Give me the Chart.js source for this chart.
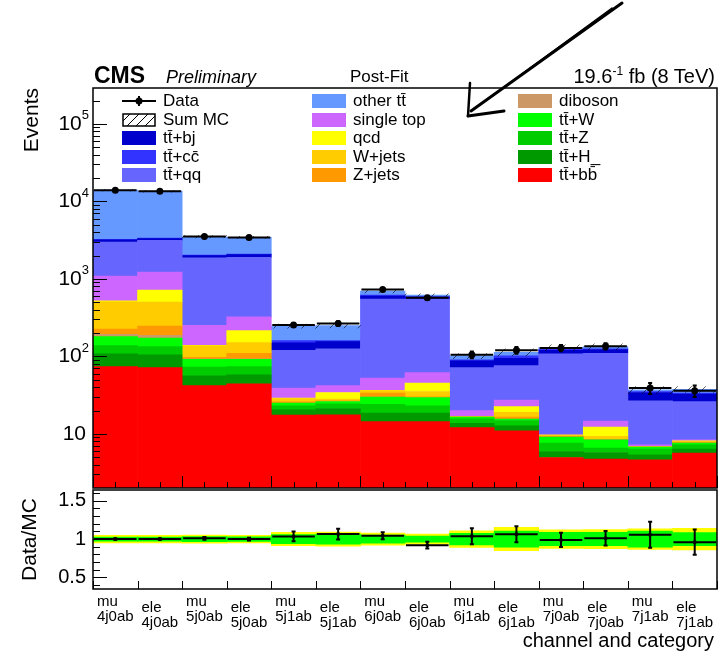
<!DOCTYPE html>
<html>
<head>
<meta charset="utf-8">
<script src="https://cdn.jsdelivr.net/npm/chart.js@4.4.1/dist/chart.umd.min.js"></script>
<style>
  body { margin: 0; background: #fff; font-family: "Liberation Sans", Arial, sans-serif; }
  #wrap { position: relative; width: 722px; height: 653px; overflow: hidden; }
  #mainChart { position: absolute; left: 0; top: 0; }
  #ratioChart { position: absolute; left: 0; top: 470px; }
  .txt { position: absolute; white-space: nowrap; line-height: 1; color: #000; }
  .sw { position: absolute; width: 34px; height: 14px; }
  #arrow { position: absolute; left: 0; top: 0; }
</style>
</head>
<body>
<div id="wrap">
  <canvas id="mainChart" width="722" height="490"></canvas>
  <canvas id="ratioChart" width="722" height="183"></canvas>
  <div class="txt" style="left:94px;top:64px;font-size:23px;font-weight:bold;">CMS</div>
  <div class="txt" style="left:166px;top:68px;font-size:18px;font-style:italic;">Preliminary</div>
  <div class="txt" style="left:350px;top:68px;font-size:17px;">Post-Fit</div>
  <div class="txt" style="right:7px;top:65px;font-size:20px;">19.6<sup style="font-size:12px;">-1</sup> fb (8 TeV)</div>
  <div class="txt" style="right:8px;top:630px;font-size:20px;">channel and category</div>
  <div id="legend"></div>
  <svg id="arrow" width="722" height="140">
    <g stroke="#000" fill="none" stroke-linecap="round">
      <path d="M622 3 L471 111" stroke-width="3"/>
      <path d="M612 8 L474 109" stroke-width="1.5"/>
      <path d="M470 83 L468 116" stroke-width="2.5"/>
      <path d="M468 116 L504 111" stroke-width="3"/>
    </g>
  </svg>
</div>
<script>
// bins
const channels = ['mu', 'ele', 'mu', 'ele', 'mu', 'ele', 'mu', 'ele', 'mu', 'ele', 'mu', 'ele', 'mu', 'ele'];
const categories = ['4j0ab', '4j0ab', '5j0ab', '5j0ab', '5j1ab', '5j1ab', '6j0ab', '6j0ab',
                    '6j1ab', '6j1ab', '7j0ab', '7j0ab', '7j1ab', '7j1ab'];

// post-fit yields per process (events)
const ttbb      = [73.6, 71.5, 41.9, 44.1, 17.4, 17.6, 14.4, 14.4, 12.0, 10.9, 4.95, 4.72, 4.62, 5.64];
const ttH       = [33.8, 32.7, 14.0, 13.5, 3.0, 3.6, 4.1, 4.1, 1.7, 1.75, 0.97, 1.02, 0.74, 0.71];
const ttZ       = [30.0, 29.2, 16.5, 16.1, 2.6, 3.2, 5.6, 4.5, 1.9, 2.2, 1.67, 0.8, 0.99, 0.87];
const ttW       = [42.1, 39.2, 19.3, 17.5, 1.9, 1.7, 5.6, 6.4, 0.8, 0.6, 1.48, 1.83, 0.39, 0.37];
const diboson   = [13.3, 14.4, 0.9, 1.4, 0.06, 0.05, 0.05, 0.05, 0.02, 0.02, 0.02, 0.02, 0.01, 0.01];
const zjets     = [32.7, 59.4, 4.2, 17.0, 0.9, 0.5, 3.7, 0.6, 0.1, 0.94, 0.22, 0.12, 0.05, 0.18];
const wjets     = [281, 256, 39.4, 40.6, 2.6, 1.4, 2.7, 5.1, 0.2, 2.6, 0.33, 0.74, 0.05, 0.23];
const qcd       = [15, 215, 2.8, 64, 0.4, 6.1, 0.2, 9.9, 0.1, 3.4, 0.03, 2.97, 0.05, 0.12];
const singleTop = [565, 507, 113, 108, 10, 7.8, 15.9, 16.6, 3.1, 4.9, 0.06, 2.38, 0.32, 0.25];
const ttqq      = [1892, 1910, 1618, 1570, 81, 82.6, 497, 487, 51.6, 48.6, 97.7, 95, 19.4, 17.7];
const ttbj      = [203, 162, 126, 164, 29, 30, 51, 34, 15.8, 18.6, 12.4, 12.8, 7.5, 6.6];
const ttcc      = [47, 59, 31, 33, 10.5, 5, 18, 9, 2.6, 6.7, 3.0, 2.2, 1.0, 0.8];
const otherTT   = [10700, 10175, 1463, 1338, 86, 90, 78, 26, 11.3, 11.7, 6.6, 8.8, 1.8, 4.0];

// data and uncertainties
const dataEvents = [13930, 13530, 3525, 3427, 254, 266, 727, 569, 105, 120, 128, 135, 39, 36];
const ratioErr   = [0.009, 0.009, 0.017, 0.017, 0.063, 0.07, 0.045, 0.045, 0.105, 0.105, 0.093, 0.095, 0.17, 0.165];
const uncInner   = [0.028, 0.028, 0.033, 0.030, 0.059, 0.065, 0.054, 0.039, 0.076, 0.104, 0.087, 0.087, 0.104, 0.085];
const uncOuter   = [0.048, 0.048, 0.054, 0.050, 0.087, 0.093, 0.080, 0.065, 0.109, 0.152, 0.120, 0.124, 0.135, 0.141];

const Y_MIN = 2, Y_MAX = 2.9e5, Y_FLOOR = 1;
const FONT = '"Liberation Sans", Arial, sans-serif';

// stacking order, bottom first
const processes = [
    ['tt\u0304+bb\u0304', ttbb, '#ff0000'],
    ['tt\u0304+H_', ttH, '#009900'],
    ['tt\u0304+Z', ttZ, '#00cc00'],
    ['tt\u0304+W', ttW, '#00ff00'],
    ['diboson', diboson, '#cc9966'],
    ['Z+jets', zjets, '#ff9900'],
    ['W+jets', wjets, '#ffcc00'],
    ['qcd', qcd, '#ffff00'],
    ['single top', singleTop, '#cc66ff'],
    ['tt\u0304+qq', ttqq, '#6666ff'],
    ['tt\u0304+bj', ttbj, '#0000cc'],
    ['tt\u0304+cc\u0304', ttcc, '#3333ff'],
    ['other tt\u0304', otherTT, '#6699ff']
];

const running = categories.map(() => 0);
const mcDatasets = processes.map(([label, vals, color]) => {
    const data = vals.map((v, i) => {
        const lo = running[i];
        running[i] += v;
        return [Math.max(lo, Y_FLOOR), running[i]];
    });
    return {
        label, data, backgroundColor: color, borderWidth: 0,
        grouped: false, barPercentage: 1, categoryPercentage: 1, order: 2
    };
});
const mcTotal = running.slice();
const ratio = dataEvents.map((d, i) => d / mcTotal[i]);

function makeHatch() {
    const c = document.createElement('canvas');
    c.width = 14; c.height = 14;
    const g = c.getContext('2d');
    g.strokeStyle = 'rgba(0,0,0,0.75)';
    g.lineWidth = 0.8;
    g.beginPath();
    g.moveTo(0, 14); g.lineTo(14, 0);
    g.stroke();
    return g.createPattern(c, 'repeat');
}

function isPow10(v) {
    const l = Math.log10(v);
    return Math.abs(l - Math.round(l)) < 1e-9;
}

// inward ROOT style ticks and frame
function drawFrame(chart, xMode) {
    const {ctx, chartArea: a, scales: {x, y}} = chart;
    const half = (x.getPixelForValue(1) - x.getPixelForValue(0)) / 2;
    const x0 = x.getPixelForValue(0) - half;
    ctx.save();
    ctx.strokeStyle = '#000';
    ctx.lineWidth = 1;
    ctx.beginPath();
    y.ticks.forEach(t => {
        const py = Math.round(y.getPixelForValue(t.value)) + 0.5;
        if (py < a.top || py > a.bottom) return;
        const major = xMode === 'half' ? isPow10(t.value) : [0.5, 1, 1.5].includes(Math.round(t.value * 10) / 10);
        ctx.moveTo(a.left, py);
        ctx.lineTo(a.left + (major ? 14 : 7), py);
    });
    if (xMode === 'half') {
        for (let k = 0; k <= categories.length * 2; k++) {
            const px = Math.round(x0 + k * half) + 0.5;
            ctx.moveTo(px, a.bottom);
            ctx.lineTo(px, a.bottom - (k % 4 === 0 ? 12 : 6));
        }
    } else {
        for (let k = 0; k <= categories.length; k++) {
            const px = Math.round(x0 + k * 2 * half) + 0.5;
            ctx.moveTo(px, a.bottom);
            ctx.lineTo(px, a.bottom - 8);
        }
    }
    ctx.stroke();
    ctx.lineWidth = 1.5;
    ctx.strokeRect(a.left, a.top, a.width, a.height);
    ctx.restore();
}

function drawPoints(chart, vals, errs, dot) {
    const {ctx, chartArea: a, scales: {x, y}} = chart;
    const half = (x.getPixelForValue(1) - x.getPixelForValue(0)) / 2;
    ctx.save();
    ctx.beginPath();
    ctx.rect(a.left, a.top, a.width, a.height);
    ctx.clip();
    ctx.strokeStyle = '#000';
    ctx.fillStyle = '#000';
    ctx.lineWidth = 2;
    vals.forEach((v, i) => {
        const cx = x.getPixelForValue(i);
        const py = y.getPixelForValue(v);
        const top = y.getPixelForValue(v + errs[i]);
        const bot = y.getPixelForValue(v - errs[i]);
        ctx.beginPath();
        ctx.moveTo(cx - half + 1, py); ctx.lineTo(cx + half - 1, py);
        ctx.moveTo(cx, top); ctx.lineTo(cx, bot);
        ctx.moveTo(cx - 2, top); ctx.lineTo(cx + 2, top);
        ctx.moveTo(cx - 2, bot); ctx.lineTo(cx + 2, bot);
        ctx.stroke();
        ctx.beginPath();
        ctx.arc(cx, py, dot, 0, Math.PI * 2);
        ctx.fill();
    });
    ctx.restore();
}

const mainPlugin = {
    id: 'mainDecor',
    afterDatasetsDraw(chart) {
        const errs = dataEvents.map((d, i) => d * ratioErr[i] / ratio[i]);
        drawPoints(chart, dataEvents, errs, 3.5);
        drawFrame(chart, 'half');
        // y labels 10^n
        const {ctx, scales: {y}} = chart;
        ctx.save();
        ctx.fillStyle = '#000';
        ctx.textAlign = 'right';
        ctx.textBaseline = 'middle';
        for (let p = 1; p <= 5; p++) {
            const py = y.getPixelForValue(Math.pow(10, p));
            if (p === 1) {
                ctx.font = '21px ' + FONT;
                ctx.fillText('10', 86, py);
            } else {
                ctx.font = '13px ' + FONT;
                const ew = ctx.measureText(String(p)).width;
                ctx.fillText(String(p), 89, py - 8);
                ctx.font = '21px ' + FONT;
                ctx.fillText('10', 89 - ew, py);
            }
        }
        ctx.restore();
    }
};

const ratioPlugin = {
    id: 'ratioDecor',
    afterDatasetsDraw(chart) {
        drawPoints(chart, ratio, ratioErr, 2);
        drawFrame(chart, 'edge');
        const {ctx, chartArea: a, scales: {x}} = chart;
        ctx.save();
        ctx.fillStyle = '#000';
        ctx.font = '15px ' + FONT;
        ctx.textAlign = 'left';
        ctx.textBaseline = 'alphabetic';
        categories.forEach((c, i) => {
            const cx = x.getPixelForValue(i);
            const w = ctx.measureText(c).width;
            const off = i % 2 ? 6 : 0;
            ctx.fillText(channels[i], cx - w / 2, a.bottom + 17 + off);
            ctx.fillText(c, cx - w / 2, a.bottom + 32 + off);
        });
        ctx.restore();
    }
};

new Chart(document.getElementById('mainChart'), {
    type: 'bar',
    data: {
        labels: categories,
        datasets: [
            {
                label: 'Sum MC',
                data: mcTotal.map((t, i) => [t * (1 - uncInner[i]), t * (1 + uncInner[i])]),
                backgroundColor: makeHatch(), borderWidth: 0,
                grouped: false, barPercentage: 1, categoryPercentage: 1, order: 1
            },
            ...mcDatasets
        ]
    },
    options: {
        responsive: false,
        devicePixelRatio: 1,
        animation: false,
        layout: { padding: { top: 88, right: 5, bottom: 2, left: 0 } },
        plugins: { legend: { display: false }, tooltip: { enabled: false } },
        scales: {
            x: { display: false, offset: true, grid: { display: false } },
            y: {
                type: 'logarithmic', min: Y_MIN, max: Y_MAX,
                afterFit: s => { s.width = 93; },
                afterBuildTicks: s => {
                    const t = [];
                    for (let e = 0; e <= 5; e++) {
                        for (let m = 1; m <= 9; m++) {
                            const v = m * Math.pow(10, e);
                            if (v >= Y_MIN && v <= Y_MAX) t.push({ value: v });
                        }
                    }
                    s.ticks = t;
                },
                grid: { display: false, drawTicks: false },
                border: { display: false },
                ticks: { display: false },
                title: {
                    display: true, text: 'Events', align: 'end', color: '#000',
                    font: { size: 21, family: FONT }, padding: { top: 20 }
                }
            }
        }
    },
    plugins: [mainPlugin]
});

new Chart(document.getElementById('ratioChart'), {
    type: 'bar',
    data: {
        labels: categories,
        datasets: [
            {
                label: 'syst 2',
                data: uncOuter.map(u => [1 - u, 1 + u]),
                backgroundColor: '#ffff00', borderWidth: 0,
                grouped: false, barPercentage: 1, categoryPercentage: 1, order: 2
            },
            {
                label: 'syst 1',
                data: uncInner.map(u => [1 - u, 1 + u]),
                backgroundColor: '#00ff00', borderWidth: 0,
                grouped: false, barPercentage: 1, categoryPercentage: 1, order: 1
            }
        ]
    },
    options: {
        responsive: false,
        devicePixelRatio: 1,
        animation: false,
        layout: { padding: { top: 20, right: 5, bottom: 64, left: 0 } },
        plugins: { legend: { display: false }, tooltip: { enabled: false } },
        scales: {
            x: { display: false, offset: true, grid: { display: false } },
            y: {
                type: 'linear', min: 0.35, max: 1.64,
                afterFit: s => { s.width = 93; },
                afterBuildTicks: s => {
                    const t = [];
                    for (let k = 4; k <= 16; k++) t.push({ value: k / 10 });
                    s.ticks = t;
                },
                grid: { display: false, drawTicks: false },
                border: { display: false },
                ticks: {
                    autoSkip: false, padding: 7, color: '#000',
                    font: { size: 20, family: FONT },
                    callback: v => {
                        const r = Math.round(v * 10) / 10;
                        return [0.5, 1, 1.5].includes(r) ? String(r) : '';
                    }
                },
                title: {
                    display: true, text: 'Data/MC', color: '#000',
                    font: { size: 21, family: FONT }, padding: { top: 18 }
                }
            }
        }
    },
    plugins: [ratioPlugin]
});

// legend, three columns like the ROOT TLegend
const legendCols = [
    [['Data', 'data'], ['Sum MC', 'hatch'], ['tt\u0304+bj', '#0000cc'], ['tt\u0304+cc\u0304', '#3333ff'], ['tt\u0304+qq', '#6666ff']],
    [['other tt\u0304', '#6699ff'], ['single top', '#cc66ff'], ['qcd', '#ffff00'], ['W+jets', '#ffcc00'], ['Z+jets', '#ff9900']],
    [['diboson', '#cc9966'], ['tt\u0304+W', '#00ff00'], ['tt\u0304+Z', '#00cc00'], ['tt\u0304+H_', '#009900'], ['tt\u0304+bb\u0304', '#ff0000']]
];
const colX = [122, 312, 518];
const legend = document.getElementById('legend');
legendCols.forEach((col, c) => {
    col.forEach(([name, style], r) => {
        const cy = 101 + r * 18.5;
        const sw = document.createElement('div');
        sw.className = 'sw';
        sw.style.left = colX[c] + 'px';
        sw.style.top = (cy - 7) + 'px';
        if (style === 'data') {
            sw.innerHTML = '<svg width="34" height="14"><path d="M0 7 H34 M17 2 V12" stroke="#000" stroke-width="2"/>' +
                '<circle cx="17" cy="7" r="3.5" fill="#000"/></svg>';
        } else if (style === 'hatch') {
            sw.innerHTML = '<svg width="34" height="14"><defs><pattern id="hp" width="9" height="9" patternUnits="userSpaceOnUse">' +
                '<path d="M0 9 L9 0" stroke="#000" stroke-width="1"/></pattern></defs>' +
                '<rect x="1" y="1" width="32" height="12" fill="url(#hp)" stroke="#000" stroke-width="1.5"/></svg>';
        } else {
            sw.style.background = style;
        }
        legend.appendChild(sw);
        const t = document.createElement('div');
        t.className = 'txt';
        t.style.left = (colX[c] + 41) + 'px';
        t.style.top = (cy - 9) + 'px';
        t.style.fontSize = '17px';
        t.textContent = name;
        legend.appendChild(t);
    });
});
</script>
</body>
</html>
